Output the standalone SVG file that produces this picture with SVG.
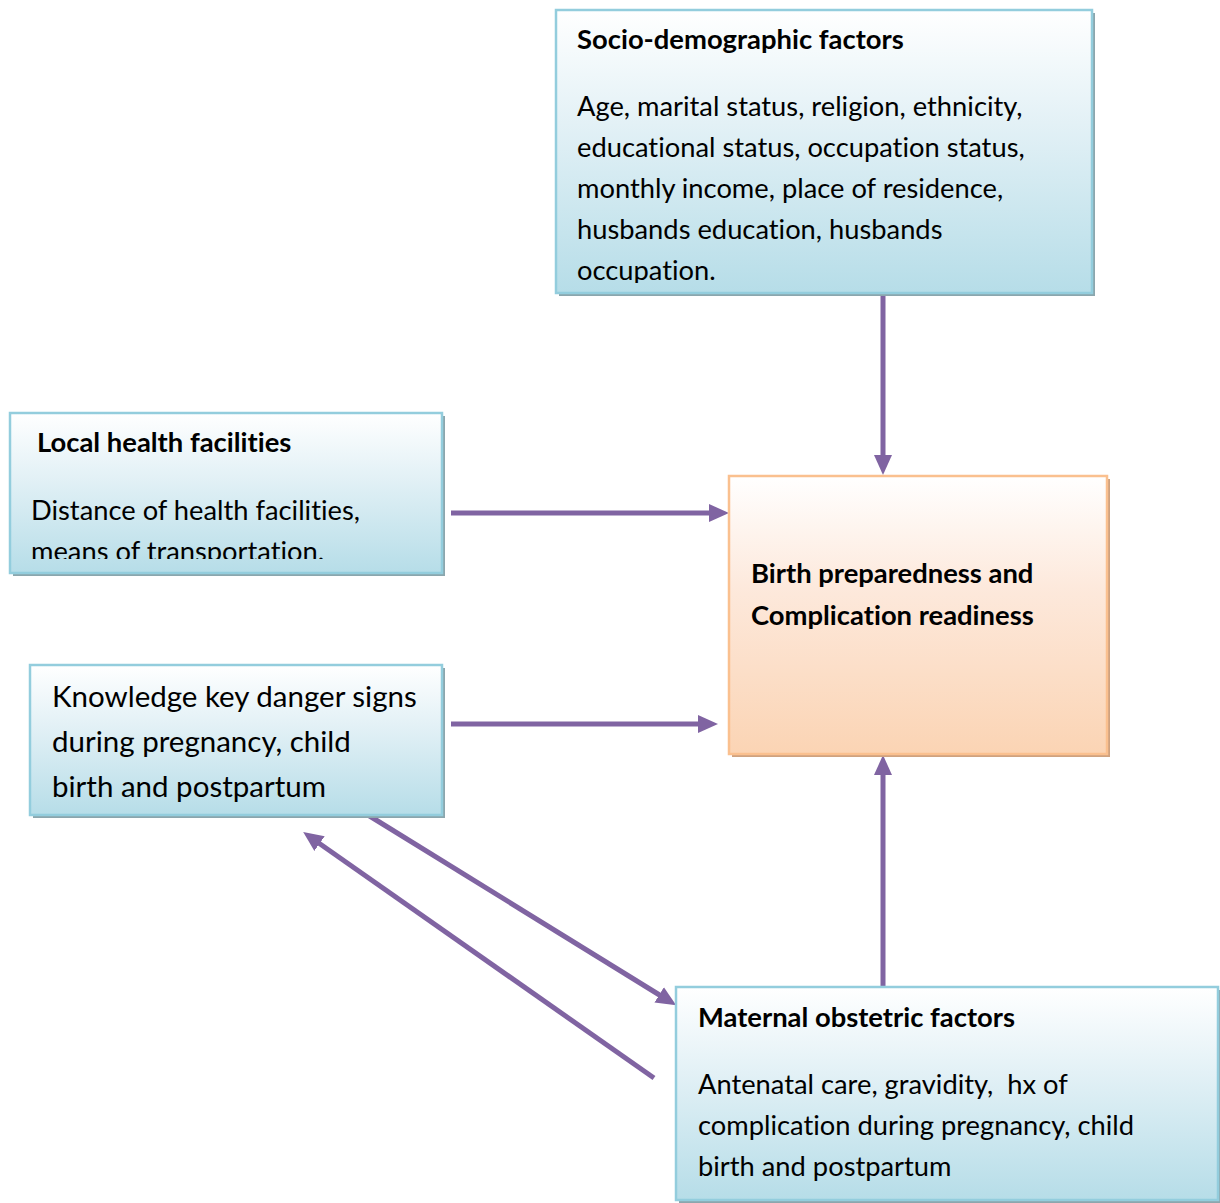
<svg xmlns="http://www.w3.org/2000/svg" width="1220" height="1203" viewBox="0 0 1220 1203">
<style>
.blue{fill:url(#gBlue);stroke:#93cddd;stroke-width:2.5}
.peach{fill:url(#gPeach);stroke:#fac08f;stroke-width:2.5}
.shB{fill:#8ba6ad}
.shP{fill:#cfa27f}
text{font-family:Lato,"Open Sans",sans-serif;fill:#000;font-variant-ligatures:none;white-space:pre}
.t{font-size:27.4px;font-weight:bold}
.b{font-size:27.3px}
.k{font-size:29.5px}
.con{stroke:#8064a2;stroke-width:5;fill:none;marker-end:url(#ah)}
</style>
<defs>
<linearGradient id="gBlue" x1="0" y1="0" x2="0" y2="1">
<stop offset="0" stop-color="#ffffff"/><stop offset="0.4" stop-color="#e3f1f6"/><stop offset="1" stop-color="#b6dde8"/>
</linearGradient>
<linearGradient id="gPeach" x1="0" y1="0" x2="0" y2="1">
<stop offset="0" stop-color="#ffffff"/><stop offset="0.4" stop-color="#fde9dc"/><stop offset="1" stop-color="#fbd4b4"/>
</linearGradient>
<marker id="ah" markerUnits="userSpaceOnUse" viewBox="0 0 20 20" refX="8" refY="10" markerWidth="20" markerHeight="20" orient="auto">
<path d="M0,1 L20,10 L0,19 z" fill="#8064a2"/>
</marker>
<clipPath id="c1"><rect x="556" y="10" width="536" height="273"/></clipPath>
<clipPath id="c2"><rect x="10" y="413" width="432" height="146"/></clipPath>
</defs>
<g id="connectors">
<line class="con" x1="883" y1="294" x2="883" y2="463"/>
<line class="con" x1="451" y1="513" x2="717" y2="513"/>
<line class="con" x1="451" y1="724" x2="706" y2="724"/>
<line class="con" x1="883" y1="987" x2="883" y2="767"/>
<line class="con" x1="368" y1="815" x2="666" y2="999"/>
<line class="con" x1="654" y1="1078" x2="313" y2="839"/>
</g>
<g id="socio">
<rect class="shB" x="559" y="13" width="536" height="283"/>
<rect class="blue" x="556" y="10" width="536" height="283"/>
<text class="t" x="577" y="49">Socio-demographic factors</text>
<g clip-path="url(#c1)">
<text class="b" x="577" y="116">Age, marital status, religion, ethnicity,</text>
<text class="b" x="577" y="157">educational status, occupation status,</text>
<text class="b" x="577" y="198">monthly income, place of residence,</text>
<text class="b" x="577" y="239">husbands education, husbands</text>
<text class="b" x="577" y="280">occupation.</text>
</g>
</g>
<g id="local">
<rect class="shB" x="13" y="416" width="432" height="160"/>
<rect class="blue" x="10" y="413" width="432" height="160"/>
<text class="t" x="37" y="452">Local health facilities</text>
<g clip-path="url(#c2)">
<text class="b" x="31" y="520">Distance of health facilities,</text>
<text class="b" x="31" y="561">means of transportation.</text>
</g>
</g>
<g id="knowledge">
<rect class="shB" x="33" y="668" width="412" height="150"/>
<rect class="blue" x="30" y="665" width="412" height="150"/>
<text class="k" x="52" y="707">Knowledge key danger signs</text>
<text class="k" x="52" y="752">during pregnancy, child</text>
<text class="k" x="52" y="797">birth and postpartum</text>
</g>
<g id="birth">
<rect class="shP" x="732" y="479" width="378" height="278"/>
<rect class="peach" x="729" y="476" width="378" height="278"/>
<text class="t" x="751" y="583">Birth preparedness and</text>
<text class="t" x="751" y="625">Complication readiness</text>
</g>
<g id="maternal">
<rect class="shB" x="679" y="990" width="541" height="214"/>
<rect class="blue" x="676" y="987" width="542" height="213"/>
<text class="t" x="698" y="1027">Maternal obstetric factors</text>
<text class="b" x="698" y="1094">Antenatal care, gravidity,  hx of</text>
<text class="b" x="698" y="1135">complication during pregnancy, child</text>
<text class="b" x="698" y="1176">birth and postpartum</text>
</g>
</svg>
